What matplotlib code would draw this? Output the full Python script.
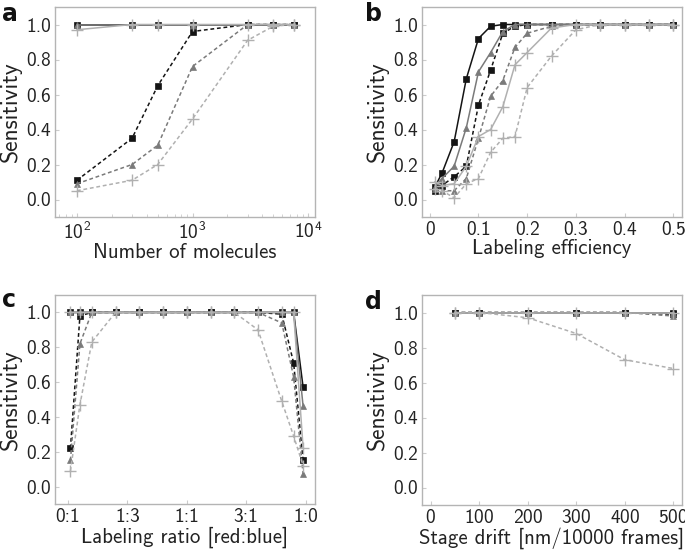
import matplotlib
matplotlib.use("Agg")
import matplotlib.pyplot as plt
import numpy as np

plt.rcParams['font.family'] = ['cmss10', 'DejaVu Sans']
plt.rcParams['mathtext.fontset'] = 'custom'
plt.rcParams['mathtext.rm'] = 'cmss10'
plt.rcParams['mathtext.it'] = 'cmss10'
plt.rcParams['mathtext.bf'] = 'cmss10'
plt.rcParams['axes.unicode_minus'] = False
plt.rcParams['axes.formatter.use_mathtext'] = True

# ---------------- data ----------------
# series order: solid square, solid triangle, solid plus, dashed square, dashed triangle, dashed plus
a_x = [100, 300, 500, 1000, 3000, 5000, 7500]
a_solid_sq = [1.0, 1.0, 1.0, 1.0, 1.0, 1.0, 1.0]
a_solid_tri = [1.0, 1.0, 1.0, 1.0, 1.0, 1.0, 1.0]
a_solid_plus = [0.97, 1.0, 1.0, 1.0, 1.0, 1.0, 1.0]
a_dash_sq = [0.11, 0.35, 0.65, 0.96, 1.0, 1.0, 1.0]
a_dash_tri = [0.09, 0.20, 0.31, 0.76, 1.0, 1.0, 1.0]
a_dash_plus = [0.05, 0.11, 0.20, 0.46, 0.91, 0.99, 1.0]

b_x = [0.01, 0.025, 0.05, 0.075, 0.1, 0.125, 0.15, 0.175, 0.2, 0.25, 0.3, 0.35, 0.4, 0.45, 0.5]
b_solid_sq = [0.07, 0.15, 0.33, 0.69, 0.92, 0.99, 1.0, 1.0, 1.0, 1.0, 1.0, 1.0, 1.0, 1.0, 1.0]
b_solid_tri = [0.07, 0.12, 0.19, 0.41, 0.73, 0.84, 0.96, 1.0, 1.0, 1.0, 1.0, 1.0, 1.0, 1.0, 1.0]
b_solid_plus = [0.10, 0.08, 0.09, 0.19, 0.36, 0.40, 0.53, 0.77, 0.84, 0.98, 1.0, 1.0, 1.0, 1.0, 1.0]
b_dash_sq = [0.05, 0.08, 0.13, 0.19, 0.54, 0.74, 0.95, 0.99, 1.0, 1.0, 1.0, 1.0, 1.0, 1.0, 1.0]
b_dash_tri = [0.06, 0.05, 0.05, 0.12, 0.35, 0.59, 0.68, 0.87, 0.95, 0.99, 1.0, 1.0, 1.0, 1.0, 1.0]
b_dash_plus = [0.06, 0.05, 0.01, 0.09, 0.12, 0.27, 0.35, 0.36, 0.64, 0.82, 0.97, 1.0, 1.0, 1.0, 1.0]

c_x = [0.01, 0.05, 0.1, 0.2, 0.3, 0.4, 0.5, 0.6, 0.7, 0.8, 0.9, 0.95, 0.99]
c_solid_sq = [1.0, 1.0, 1.0, 1.0, 1.0, 1.0, 1.0, 1.0, 1.0, 1.0, 1.0, 1.0, 0.57]
c_solid_tri = [1.0, 1.0, 1.0, 1.0, 1.0, 1.0, 1.0, 1.0, 1.0, 1.0, 1.0, 1.0, 0.46]
c_solid_plus = [1.0, 1.0, 1.0, 1.0, 1.0, 1.0, 1.0, 1.0, 1.0, 1.0, 1.0, 1.0, 0.22]
c_dash_sq = [0.22, 0.98, 1.0, 1.0, 1.0, 1.0, 1.0, 1.0, 1.0, 1.0, 0.99, 0.71, 0.15]
c_dash_tri = [0.15, 0.82, 1.0, 1.0, 1.0, 1.0, 1.0, 1.0, 1.0, 1.0, 0.94, 0.63, 0.07]
c_dash_plus = [0.09, 0.47, 0.83, 1.0, 1.0, 1.0, 1.0, 1.0, 1.0, 0.90, 0.49, 0.29, 0.12]
c_ticks = [0.0, 0.25, 0.5, 0.75, 1.0]
c_ticklabels = ['0:1', '1:3', '1:1', '3:1', '1:0']

d_x = [50, 100, 200, 300, 400, 500]
d_solid_sq = [1.0, 1.0, 1.0, 1.0, 1.0, 1.0]
d_solid_tri = [1.0, 1.0, 1.0, 1.0, 1.0, 1.0]
d_solid_plus = [1.0, 1.0, 1.0, 1.0, 1.0, 1.0]
d_dash_sq = [1.0, 1.0, 1.0, 1.0, 1.0, 0.99]
d_dash_tri = [1.0, 1.0, 1.0, 1.0, 1.0, 0.98]
d_dash_plus = [1.0, 1.0, 0.97, 0.88, 0.73, 0.68]

# ---------------- styles ----------------
BLACK = '#141414'
GRAY = '#7a7a7a'
LIGHT = '#b0b0b0'
SPINE = '#b4b4b4'
TEXT = '#222222'
XLABEL_FS = 15
YLABEL_FS = 17
TICK_FS = 14

def draw(ax, x, series):
    dash = (0, (2.5, 1.8))
    styles = [
        ('-', 's', BLACK, 3), ('-', '^', GRAY, 5), ('-', '+', LIGHT, 7),
        (dash, 's', BLACK, 2), (dash, '^', GRAY, 4), (dash, '+', LIGHT, 6),
    ]
    for i, (ls, mk, col, z) in enumerate(styles):
        ms = 8 if mk == '+' else 5
        ax.plot(x, series[i], linestyle=ls, marker=mk, color=col, lw=1.1,
                markersize=ms, markeredgewidth=1.0 if mk == '+' else 0.5,
                markeredgecolor=col, zorder=z)

def style(ax):
    for s in ax.spines.values():
        s.set_color(SPINE)
        s.set_linewidth(1.0)
    ax.tick_params(which='both', direction='in', color='#cccccc', labelsize=TICK_FS,
                   labelcolor=TEXT)
    ax.tick_params(axis='y', pad=3)
    ax.tick_params(axis='x', pad=3)
    ax.tick_params(which='major', length=3)
    ax.tick_params(which='minor', length=2)
    ax.set_ylim(-0.1, 1.1)
    ax.set_yticks([0.0, 0.2, 0.4, 0.6, 0.8, 1.0])
    ax.set_yticklabels(['0.0', '0.2', '0.4', '0.6', '0.8', '1.0'])
    ax.set_ylabel('Sensitivity', fontsize=YLABEL_FS, color=TEXT, labelpad=3)

fig = plt.figure(figsize=(6.85, 5.5), dpi=100)
W, H = 685, 550
def add_ax(l, r, t, b):
    return fig.add_axes([l / W, 1 - b / H, (r - l) / W, (b - t) / H])

ax_a = add_ax(55, 315, 7, 217)
ax_b = add_ax(422, 682, 7, 217)
ax_c = add_ax(55, 315, 295, 504)
ax_d = add_ax(422, 682, 295, 505)

draw(ax_a, a_x, [a_solid_sq, a_solid_tri, a_solid_plus, a_dash_sq, a_dash_tri, a_dash_plus])
ax_a.set_xscale('log')
ax_a.set_xlim(10 ** 1.81, 10 ** 4.06)
style(ax_a)
ax_a.set_xlabel('Number of molecules', fontsize=XLABEL_FS, color=TEXT, labelpad=0)

draw(ax_b, b_x, [b_solid_sq, b_solid_tri, b_solid_plus, b_dash_sq, b_dash_tri, b_dash_plus])
ax_b.set_xlim(-0.016, 0.518)
ax_b.set_xticks([0, 0.1, 0.2, 0.3, 0.4, 0.5])
ax_b.set_xticklabels(['0', '0.1', '0.2', '0.3', '0.4', '0.5'])
style(ax_b)
ax_b.set_xlabel('Labeling efficiency', fontsize=XLABEL_FS, color=TEXT, labelpad=0)

draw(ax_c, c_x, [c_solid_sq, c_solid_tri, c_solid_plus, c_dash_sq, c_dash_tri, c_dash_plus])
ax_c.set_xlim(-0.055, 1.04)
ax_c.set_xticks(c_ticks)
ax_c.set_xticklabels(c_ticklabels)
style(ax_c)
ax_c.set_xlabel('Labeling ratio [red:blue]', fontsize=XLABEL_FS, color=TEXT, labelpad=0)

draw(ax_d, d_x, [d_solid_sq, d_solid_tri, d_solid_plus, d_dash_sq, d_dash_tri, d_dash_plus])
ax_d.set_xlim(-18, 518)
ax_d.set_xticks([0, 100, 200, 300, 400, 500])
style(ax_d)
ax_d.set_xlabel('Stage drift [nm/10000 frames]', fontsize=XLABEL_FS, color=TEXT, labelpad=0)

for lab, x, y in [('a', 2, 2), ('b', 365, 2), ('c', 2, 288), ('d', 365, 290)]:
    fig.text(x / W, 1 - y / H, lab, fontsize=17, fontweight='bold',
             family='DejaVu Sans', va='top', ha='left', color='#111111')

fig.savefig('out.png', dpi=100)
